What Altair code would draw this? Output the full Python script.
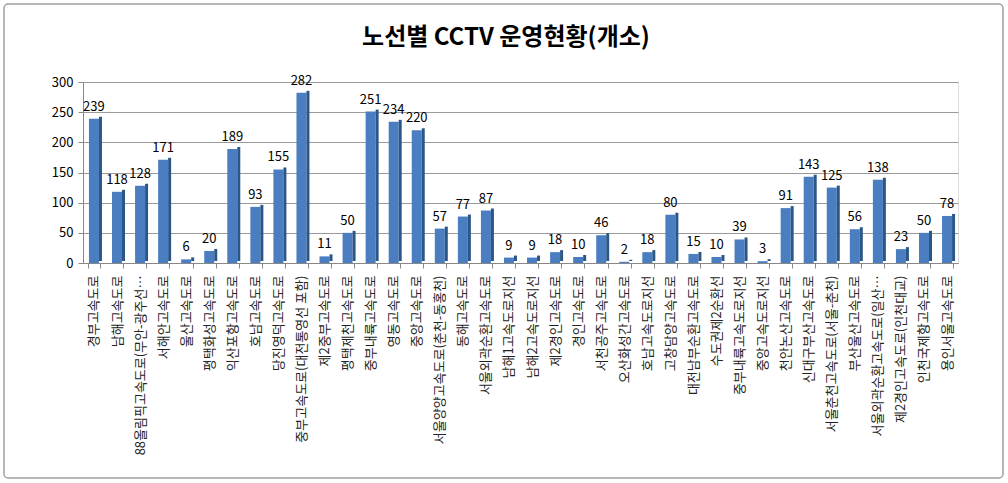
import altair as alt
import pandas as pd

title_text = "노선별 CCTV 운영현황(개소)"
routes = [
    "경부고속도로", "남해고속도로", "88올림픽고속도로(무안-광주선…", "서해안고속도로", "울산고속도로",
    "평택화성고속도로", "익산포항고속도로", "호남고속도로", "당진영덕고속도로", "중부고속도로(대전통영선 포함)",
    "제2중부고속도로", "평택제천고속도로", "중부내륙고속도로", "영동고속도로", "중앙고속도로",
    "서울양양고속도로(춘천-동홍천)", "동해고속도로", "서울외곽순환고속도로", "남해1고속도로지선", "남해2고속도로지선",
    "제2경인고속도로", "경인고속도로", "서천공주고속도로", "오산화성간고속도로", "호남고속도로지선",
    "고창담양고속도로", "대전남부순환고속도로", "수도권제2순환선", "중부내륙고속도로지선", "중앙고속도로지선",
    "천안논산고속도로", "신대구부산고속도로", "서울춘천고속도로(서울-춘천)", "부산울산고속도로", "서울외곽순환고속도로(일산…",
    "제2경인고속도로(인천대교)", "인천국제항고속도로", "용인서울고속도로",
]
counts = [
    239, 118, 128, 171, 6,
    20, 189, 93, 155, 282,
    11, 50, 251, 234, 220,
    57, 77, 87, 9, 9,
    18, 10, 46, 2, 18,
    80, 15, 10, 39, 3,
    91, 143, 125, 56, 138,
    23, 50, 78,
]
y_ticks = [0, 50, 100, 150, 200, 250, 300]

df = pd.DataFrame({"route": routes, "count": counts})

FONT = "Noto Sans CJK KR"

x_enc = alt.X(
    "route:N", sort=routes, title=None,
    scale=alt.Scale(paddingInner=0.45, paddingOuter=0.2),
    axis=alt.Axis(labelAngle=270, labelFontSize=13, labelColor="#222222", labelFont=FONT,
                  labelFontWeight="normal", labelLimit=220, tickBand="extent",
                  tickColor="#888888", domainColor="#888888", labelPadding=7),
)
y_enc = alt.Y(
    "count:Q", title=None,
    scale=alt.Scale(domain=[0, 300], nice=False),
    axis=alt.Axis(values=y_ticks, labelFontSize=13, labelColor="#000000", labelFont=FONT,
                  gridColor="#9a9a9a", gridWidth=1, domainColor="#888888", tickColor="#888888",
                  labelPadding=5),
)

base = alt.Chart(df)

side = base.mark_bar(color="#2b5788", size=3, xOffset=6.5, yOffset=-2).encode(x=x_enc, y=y_enc)
front = base.mark_bar(color="#4a7ec0", size=10, xOffset=0).encode(x=x_enc, y=y_enc)
labels = base.mark_text(dy=-12, fontSize=13, font=FONT, color="#000000").encode(
    x=x_enc, y=y_enc, text="count:Q"
)

deco = alt.Chart(pd.DataFrame({"t": [title_text]}))
frame = deco.mark_rect(
    fill=None, stroke="#a0a0a0", strokeWidth=1.5, cornerRadius=4
).encode(
    x=alt.value(-79), x2=alt.value(920), y=alt.value(-78), y2=alt.value(396)
)
title = deco.mark_text(
    fontSize=24, font=FONT, fontWeight="bold", color="#000000", align="center", baseline="middle"
).encode(x=alt.value(423), y=alt.value(-44), text="t:N")

chart = (
    alt.layer(frame, title, front, side, labels)
    .properties(
        width=875,
        height=181,
        autosize=alt.AutoSizeParams(type="none"),
        padding={"left": 83, "top": 82, "right": 50, "bottom": 220},
    )
    .configure_view(stroke=None)
    .configure(background="#ffffff")
)

chart.save("out.html", embed_options={"renderer": "svg", "actions": False})
